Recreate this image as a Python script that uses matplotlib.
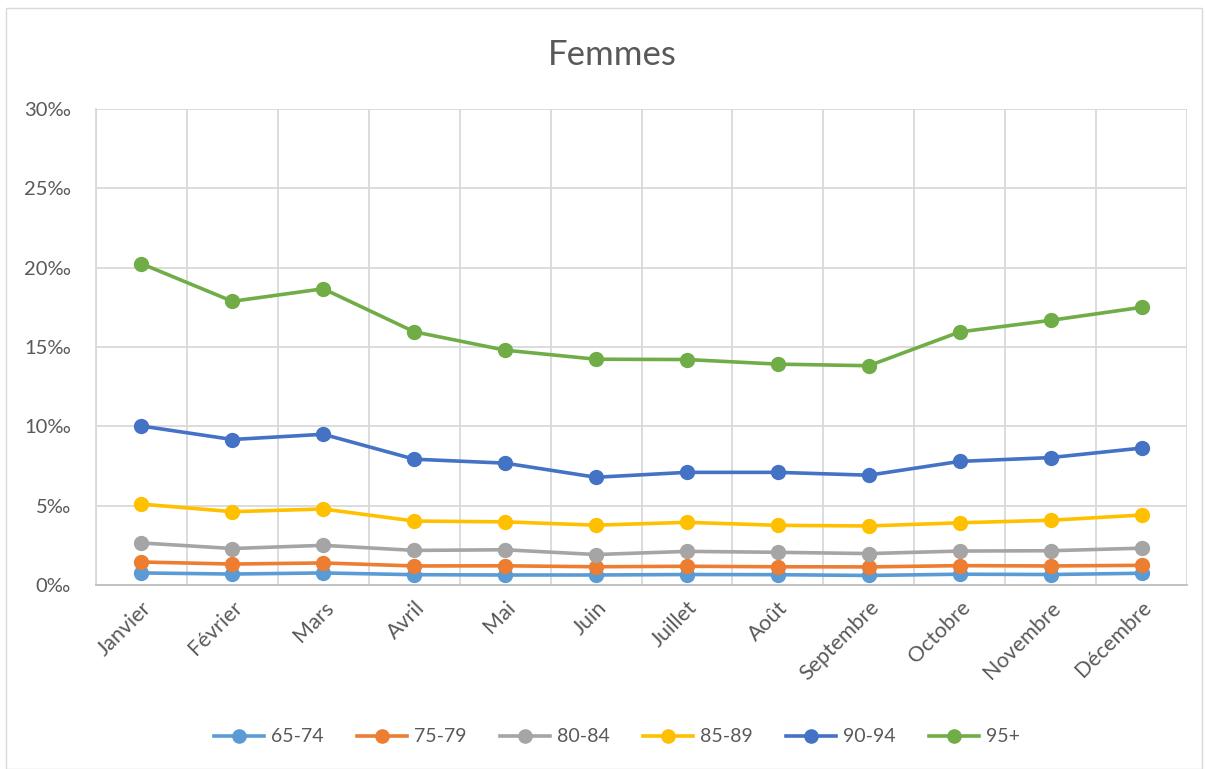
import numpy as np
import matplotlib.pyplot as plt
from matplotlib.patches import Rectangle

# donnees (pour mille)
mois = ["Janvier", "Février", "Mars", "Avril", "Mai", "Juin", "Juillet",
        "Août", "Septembre", "Octobre", "Novembre", "Décembre"]
ages = ["65-74", "75-79", "80-84", "85-89", "90-94", "95+"]

v_65_74 = [0.76, 0.69, 0.76, 0.65, 0.63, 0.63, 0.66, 0.65, 0.60, 0.68, 0.66, 0.74]
v_75_79 = [1.45, 1.32, 1.39, 1.20, 1.21, 1.15, 1.18, 1.15, 1.14, 1.22, 1.20, 1.24]
v_80_84 = [2.65, 2.30, 2.50, 2.18, 2.22, 1.92, 2.12, 2.06, 1.98, 2.14, 2.16, 2.32]
v_85_89 = [5.10, 4.62, 4.79, 4.03, 3.98, 3.77, 3.95, 3.76, 3.72, 3.92, 4.08, 4.41]
v_90_94 = [10.02, 9.17, 9.50, 7.93, 7.68, 6.79, 7.10, 7.10, 6.92, 7.79, 8.03, 8.63]
v_95 = [20.25, 17.88, 18.67, 15.96, 14.80, 14.23, 14.21, 13.92, 13.82, 15.95, 16.68, 17.50]

series = [v_65_74, v_75_79, v_80_84, v_85_89, v_90_94, v_95]
couleurs = ["#5B9BD5", "#ED7D31", "#A5A5A5", "#FFC000", "#4472C4", "#70AD47"]

txt = "#595959"
plt.rcParams['font.family'] = ['Lato', 'DejaVu Sans']

fig = plt.figure(figsize=(12.06, 7.69), dpi=100)
ax = fig.add_axes([96/1206, 1-585/769, (1187-96)/1206, (585-109)/769])

# cadre autour du graphique
fig.patches.append(Rectangle((6/1206, 0), 1196/1206, 1-8/769, transform=fig.transFigure,
                             fill=False, edgecolor="#D9D9D9", linewidth=1))

x = np.arange(len(mois))
for vals, c, lab in zip(series, couleurs, ages):
    ax.plot(x, vals, '-o', color=c, linewidth=2.6, markersize=10, label=lab)

ax.set_xlim(-0.5, len(mois) - 0.5)
ax.set_ylim(0, 30)
ax.set_yticks(np.arange(0, 31, 5))
ax.set_yticklabels([f"{v}‰" for v in range(0, 31, 5)])
ax.set_xticks(x)
ax.set_xticklabels(mois, rotation=45, ha='right', rotation_mode='anchor')

# grille verticale entre les categories
ax.set_xticks(np.arange(-0.5, len(mois), 1), minor=True)
ax.grid(True, which='minor', axis='x', color="#D9D9D9", linewidth=1.3)
ax.grid(True, which='major', axis='y', color="#D9D9D9", linewidth=1.3)
ax.set_axisbelow(True)

for s in ['top', 'right']:
    ax.spines[s].set_visible(False)
ax.spines['left'].set_color("#D9D9D9")
ax.spines['bottom'].set_color("#BFBFBF")
ax.spines['left'].set_linewidth(1.3)
ax.spines['bottom'].set_linewidth(1.3)

ax.tick_params(axis='both', which='both', length=0, labelsize=14.5, colors=txt)
ax.tick_params(axis='x', labelsize=15.5)
ax.tick_params(axis='y', pad=18)
ax.tick_params(axis='x', pad=9)

fig.text(612/1206, 1-55/769, "Femmes", ha='center', va='center', fontsize=25, color=txt)

fig.legend(loc='center', bbox_to_anchor=(617/1206, 1-737/769), ncol=6, frameon=False,
           fontsize=14, labelcolor=txt, handlelength=2.6, columnspacing=1.7,
           handletextpad=0.35, markerscale=0.95)

fig.savefig("out.png", dpi=100)
